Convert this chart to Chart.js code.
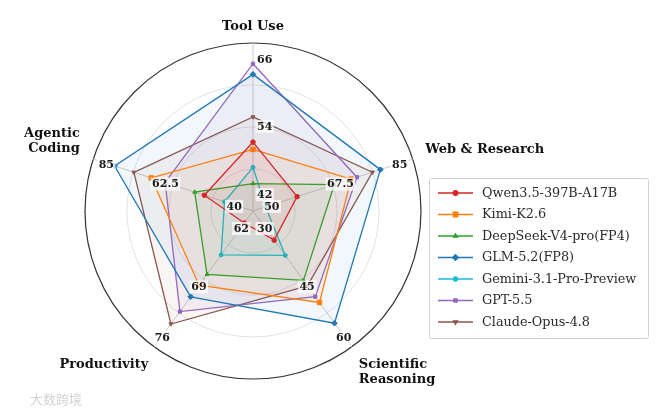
<!DOCTYPE html>
<html>
<head>
<meta charset="utf-8">
<script src="https://cdn.jsdelivr.net/npm/chart.js@4.4.1/dist/chart.umd.min.js"></script>
<style>
  html, body { margin: 0; padding: 0; background: #fff; }
  #wrap { width: 668px; height: 411px; }
</style>
</head>
<body>
<div id="wrap"><canvas id="radarChart" width="668" height="411"></canvas></div>
<script>
// axes (clockwise from top) and their own value ranges
const axisNames = ['Tool Use', 'Web & Research', 'Scientific Reasoning', 'Productivity', 'Agentic Coding'];
const axisLow  = [42, 50, 30, 62, 40];
const axisHigh = [66, 85, 60, 76, 85];
const axisTicks = [
    ['42', '54', '66'],
    ['50', '67.5', '85'],
    ['30', '45', '60'],
    ['62', '69', '76'],
    ['40', '62.5', '85']
];

// scores per model, same order as axisNames
const qwen     = [51.3, 57.7, 34.3, 61.8, 51.5];
const kimi     = [50.0, 72.5, 51.5, 69.8, 70.2];
const deepseek = [43.9, 67.9, 45.4, 68.4, 54.9];
const glm      = [63.4, 80.5, 57.2, 71.3, 83.1];
const gemini   = [46.8, 49.1, 38.5, 65.9, 44.4];
const gpt      = [65.3, 74.1, 49.9, 73.2, 65.3];
const claude   = [55.8, 78.3, 46.9, 74.8, 76.3];

const modelNames = ['Qwen3.5-397B-A17B', 'Kimi-K2.6', 'DeepSeek-V4-pro(FP4)', 'GLM-5.2(FP8)',
                    'Gemini-3.1-Pro-Preview', 'GPT-5.5', 'Claude-Opus-4.8'];
const modelScores = [qwen, kimi, deepseek, glm, gemini, gpt, claude];

const colors = ['#d62728', '#ff7f0e', '#2ca02c', '#1f77b4', '#17becf', '#9467bd', '#8c564b'];
const markers = [
    { style: 'circle', radius: 2.3, rot: 0 },
    { style: 'rect', radius: 3.2, rot: 0 },
    { style: 'triangle', radius: 2.3, rot: 0 },
    { style: 'rectRot', radius: 2.8, rot: 0 },
    { style: 'circle', radius: 2, rot: 0 },
    { style: 'rect', radius: 2.3, rot: 0 },
    { style: 'triangle', radius: 2.3, rot: 180 }
];

// tick labels sit at 10%, 50% and 90% of the radius
const tickFrac = [0.1, 0.5, 0.9];

function normalise(values) {
    return values.map(function(v, i) {
        return 0.1 + 0.8 * (v - axisLow[i]) / (axisHigh[i] - axisLow[i]);
    });
}

function hexA(hex, a) {
    const n = parseInt(hex.slice(1), 16);
    return 'rgba(' + (n >> 16) + ',' + ((n >> 8) & 255) + ',' + (n & 255) + ',' + a + ')';
}

const serif = '"DejaVu Serif", "Liberation Serif", serif';

// title placement for each axis: alignment and nudge from the outer point
const titleLayout = [
    { align: 'center', dx: 0, dy: -4, lines: ['Tool Use'] },
    { align: 'left', dx: 1, dy: -6, lines: ['Web & Research'] },
    { align: 'left', dx: 0, dy: 8, lines: ['Scientific', 'Reasoning'] },
    { align: 'right', dx: 1, dy: 8, lines: ['Productivity'] },
    { align: 'right', dx: -2, dy: -22, lines: ['Agentic', 'Coding'] }
];

const overlay = {
    id: 'overlay',
    afterDatasetsDraw(chart) {
        const ctx = chart.ctx;
        const scale = chart.scales.r;
        const R = scale.drawingArea;
        ctx.save();
        ctx.font = 'bold 11px ' + serif;
        ctx.textBaseline = 'middle';
        axisTicks.forEach(function(ticks, i) {
            ticks.forEach(function(t, k) {
                let p, x, y;
                const w = ctx.measureText(t).width;
                if (i === 0) {
                    p = scale.getPointPosition(i, tickFrac[k] * R);
                    x = p.x + 4 + w / 2;
                    y = p.y + (k === 0 ? 1 : 0);
                } else {
                    const extra = k === 1 ? 8 : 3;
                    p = scale.getPointPosition(i, tickFrac[k] * R + extra);
                    x = p.x;
                    y = p.y + 2;
                }
                ctx.fillStyle = 'rgba(255,255,255,0.75)';
                ctx.fillRect(x - w / 2 - 1.5, y - 7, w + 3, 13);
                ctx.fillStyle = '#1a1a1a';
                ctx.textAlign = 'center';
                ctx.fillText(t, x, y);
            });
        });
        ctx.restore();
    },
    afterDraw(chart) {
        const ctx = chart.ctx;
        const scale = chart.scales.r;
        const R = scale.drawingArea;
        ctx.save();

        // axis titles
        ctx.font = 'bold 13px ' + serif;
        ctx.fillStyle = '#111';
        ctx.textBaseline = 'middle';
        titleLayout.forEach(function(t, i) {
            const p = scale.getPointPosition(i, R + 12);
            ctx.textAlign = t.align;
            t.lines.forEach(function(line, j) {
                ctx.fillText(line, p.x + t.dx, p.y + t.dy + j * 15);
            });
        });

        // legend
        const lx = 429, ly = 178, lw = 219, lh = 160;
        ctx.fillStyle = 'rgba(255,255,255,0.85)';
        ctx.strokeStyle = '#d0d0d0';
        ctx.lineWidth = 1;
        ctx.beginPath();
        ctx.roundRect(lx + 0.5, ly + 0.5, lw, lh, 2);
        ctx.fill();
        ctx.stroke();
        ctx.font = '12.8px ' + serif;
        ctx.textAlign = 'left';
        modelNames.forEach(function(name, i) {
            const y = ly + 15 + i * 21.5;
            ctx.strokeStyle = colors[i];
            ctx.lineWidth = 1.3;
            ctx.beginPath();
            ctx.moveTo(438, y);
            ctx.lineTo(473, y);
            ctx.stroke();
            ctx.fillStyle = colors[i];
            Chart.helpers.drawPoint(ctx, {
                pointStyle: markers[i].style,
                radius: markers[i].radius,
                rotation: markers[i].rot,
                borderWidth: 1
            }, 455.5, y);
            ctx.fillStyle = '#2a2a2a';
            ctx.fillText(name, 482, y + 0.5);
        });

        // faint watermark
        ctx.font = '13px "Noto Sans CJK SC", sans-serif';
        ctx.fillStyle = 'rgba(180,180,180,0.6)';
        ctx.fillText('大数跨境', 30, 399);
        ctx.restore();
    }
};

const radarCtx = document.getElementById('radarChart').getContext('2d');
const radarChart = new Chart(radarCtx, {
    type: 'radar',
    data: {
        labels: axisNames,
        datasets: modelNames.map(function(name, i) {
            return {
                label: name,
                data: normalise(modelScores[i]),
                borderColor: colors[i],
                backgroundColor: hexA(colors[i], 0.06),
                pointBackgroundColor: colors[i],
                pointBorderColor: colors[i],
                pointStyle: markers[i].style,
                pointRadius: markers[i].radius,
                pointRotation: markers[i].rot,
                pointBorderWidth: 1,
                borderWidth: 1.3,
                fill: true,
                tension: 0
            };
        })
    },
    options: {
        responsive: false,
        animation: false,
        layout: {
            padding: { left: 85, right: 247, top: 43, bottom: 32 }
        },
        plugins: {
            legend: { display: false },
            tooltip: { enabled: false }
        },
        scales: {
            r: {
                min: 0,
                max: 1,
                ticks: { display: false, stepSize: 0.25 },
                pointLabels: { display: false },
                grid: {
                    circular: true,
                    color: function(c) { return c.tick && c.tick.value === 1 ? '#333333' : '#dadada'; },
                    lineWidth: function(c) { return c.tick && c.tick.value === 1 ? 1.2 : 0.8; }
                },
                angleLines: { color: '#cccccc', lineWidth: 1 }
            }
        }
    },
    plugins: [overlay]
});
</script>
</body>
</html>
